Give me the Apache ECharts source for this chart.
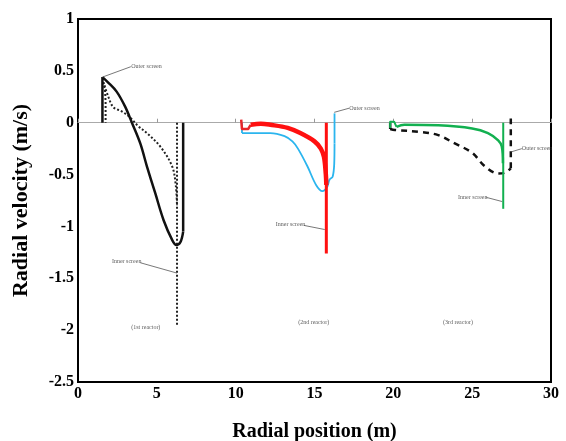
<!DOCTYPE html>
<html>
<head>
<meta charset="utf-8">
<script src="https://cdn.jsdelivr.net/npm/echarts@6/dist/echarts.min.js"></script>
<style>
  html, body { margin: 0; padding: 0; background: #fff; }
  #chart { width: 566px; height: 441px; }
</style>
</head>
<body>
<div id="chart"></div>
<script>
// 1st reactor (black): solid = inner screen, dotted = outer screen
const r1InnerWallL = [[1.55, 0], [1.55, 0.44]]
const r1Inner = [[1.55, 0.44], [1.9, 0.39], [2.45, 0.3], [2.99, 0.155], [3.42, 0.0], [3.95, -0.2], [4.37, -0.42],
  [4.9, -0.68], [5.43, -0.94], [5.97, -1.13], [6.24, -1.18], [6.5, -1.15], [6.67, -1.05]]
const r1InnerWallR = [[6.67, -1.05], [6.67, 0]]
const r1OuterA = [[1.58, 0.43], [1.72, 0.3], [1.75, 0.2], [1.75, 0]]
const r1OuterB = [[1.68, 0.36], [1.9, 0.26], [2.24, 0.15], [2.77, 0.11], [3.31, 0.05], [3.8, -0.03], [4.37, -0.1],
  [5.22, -0.23], [5.97, -0.42], [6.2, -0.6], [6.28, -0.8]]
const r1OuterWall = [[6.28, 0], [6.28, -1.95]]

// 2nd reactor: red = inner screen, blue = outer screen
const r2InnerHook = [[10.35, 0.03], [10.4, -0.06], [10.8, -0.06], [10.95, -0.02]]
const r2Inner = [[10.95, -0.02], [11.6, -0.01], [12.2, -0.02], [13.3, -0.05], [14.1, -0.1], [15.0, -0.18],
  [15.4, -0.25], [15.6, -0.33], [15.72, -0.5], [15.75, -0.6]]
const r2InnerWall = [[15.75, 0], [15.75, -1.26]]
const r2OuterWallL = [[10.4, 0], [10.4, -0.1]]
const r2Outer = [[10.4, -0.1], [12.2, -0.1], [13.1, -0.13], [13.6, -0.18], [13.95, -0.25], [14.55, -0.42],
  [15.1, -0.6], [15.5, -0.66], [15.8, -0.62], [15.95, -0.55], [16.15, -0.52], [16.25, -0.4], [16.27, -0.2]]
const r2OuterWallR = [[16.27, -0.2], [16.27, 0.09]]

// 3rd reactor: green = inner screen, dashed black = outer screen
const r3InnerHook = [[19.8, -0.05], [19.8, 0.01], [20.05, 0.01], [20.2, -0.04]]
const r3Inner = [[20.2, -0.04], [20.7, -0.02], [22.85, -0.025], [25.0, -0.055], [26.0, -0.1], [26.65, -0.17],
  [26.88, -0.23], [26.95, -0.39]]
const r3InnerWall = [[26.97, 0], [26.97, -0.83]]
const r3OuterWallL = [[19.8, 0], [19.8, -0.06]]
const r3Outer = [[19.8, -0.06], [20.1, -0.07], [21.8, -0.09], [22.85, -0.12], [23.9, -0.2], [25.0, -0.29],
  [25.8, -0.42], [26.65, -0.49], [27.1, -0.48], [27.45, -0.44]]
const r3OuterWallR = [[27.45, -0.44], [27.45, 0.04]]

// annotations: [x, y, text, anchor]
const notes = [
  [3.38, 0.54, 'Outer screen', 'left'],
  [2.15, -1.34, 'Inner screen', 'left'],
  [4.3, -1.97, '(1st reactor)', 'center'],
  [17.2, 0.14, 'Outer screen', 'left'],
  [12.55, -0.98, 'Inner screen', 'left'],
  [14.95, -1.93, '(2nd reactor)', 'center'],
  [28.15, -0.25, 'Outer screen', 'left'],
  [24.1, -0.72, 'Inner screen', 'left'],
  [24.1, -1.93, '(3rd reactor)', 'center']
]
const leaders = [
  [[1.55, 0.44], [3.35, 0.54]],
  [[3.95, -1.35], [6.28, -1.45]],
  [[16.25, 0.1], [17.2, 0.14]],
  [[14.33, -0.99], [15.65, -1.03]],
  [[27.5, -0.28], [28.15, -0.25]],
  [[25.9, -0.72], [26.9, -0.76]]
]

const chart = echarts.init(document.getElementById('chart'))

function curve(data, color, width, type, smooth) {
  return {
    type: 'line', data: data, symbol: 'none', silent: true, xAxisIndex: 0,
    smooth: smooth || false,
    lineStyle: { color: color, width: width, type: type || 'solid', cap: 'butt', join: 'round' }
  }
}

const serif = 'Liberation Serif'
const axisFont = { fontFamily: serif, fontWeight: 'bold', fontSize: 16, color: '#000' }
const dots = [2, 2]
const dash = [6, 5]

const series = [
  curve(r1OuterA, '#222', 2, dots),
  curve(r1OuterB, '#222', 2, dots, 0.35),
  curve(r1OuterWall, '#222', 2, dots),
  curve(r1InnerWallL, '#111', 2.5),
  curve(r1Inner, '#111', 2.5, 'solid', 0.35),
  curve(r1InnerWallR, '#111', 2.5),
  curve(r2OuterWallL, '#2bb5ee', 1.8),
  curve(r2Outer, '#2bb5ee', 1.8, 'solid', 0.35),
  curve(r2OuterWallR, '#2bb5ee', 1.8),
  curve(r2InnerHook, '#e8262a', 2.5),
  curve(r2Inner, '#ff1010', 4.5, 'solid', 0.35),
  curve(r2InnerWall, '#ff1010', 3),
  curve(r3OuterWallL, '#111', 2.5),
  curve(r3Outer, '#111', 2.5, dash, 0.35),
  curve(r3OuterWallR, '#111', 2.5, dash),
  curve(r3InnerHook, '#12b050', 2),
  curve(r3Inner, '#12b050', 2.5, 'solid', 0.35),
  curve(r3InnerWall, '#12b050', 2)
]

leaders.forEach(function (seg) {
  series.push(curve(seg, '#555', 0.8))
})

series.push({
  type: 'scatter', symbolSize: 0, silent: true,
  data: notes.map(function (n) {
    return {
      value: [n[0], n[1]],
      name: n[2],
      label: { position: n[3] === 'center' ? 'inside' : 'right', distance: 0 }
    }
  }),
  label: {
    show: true, formatter: '{b}', color: '#333',
    fontFamily: serif, fontSize: 6
  }
})

chart.setOption({
  animation: false,
  grid: {
    left: 78, right: 15, top: 19, bottom: 59, outerBoundsMode: 'none',
    show: true, borderColor: '#000', borderWidth: 2
  },
  xAxis: [{
    type: 'value', min: 0, max: 30, interval: 5,
    name: 'Radial position (m)', nameLocation: 'middle', nameGap: 40,
    nameTextStyle: { fontFamily: serif, fontWeight: 'bold', fontSize: 20, color: '#000' },
    axisLine: { onZero: false, lineStyle: { color: '#000', width: 2 } },
    axisTick: { show: false },
    axisLabel: Object.assign({ margin: 4 }, axisFont),
    splitLine: { show: false }
  }, {
    type: 'value', min: 0, max: 30, interval: 5, position: 'bottom',
    axisLine: { onZero: true, lineStyle: { color: '#aaa', width: 1 } },
    axisTick: { show: true, length: 4, inside: true, lineStyle: { color: '#999' } },
    axisLabel: { show: false },
    splitLine: { show: false }
  }],
  yAxis: {
    type: 'value', min: -2.5, max: 1, interval: 0.5,
    name: 'Radial velocity (m/s)', nameLocation: 'middle', nameGap: 46,
    nameTextStyle: { fontFamily: serif, fontWeight: 'bold', fontSize: 22, color: '#000' },
    axisLine: { show: true, lineStyle: { color: '#000', width: 2 } },
    axisTick: { show: false },
    axisLabel: Object.assign({ margin: 4 }, axisFont),
    splitLine: { show: false }
  },
  series: series
})
</script>
</body>
</html>
